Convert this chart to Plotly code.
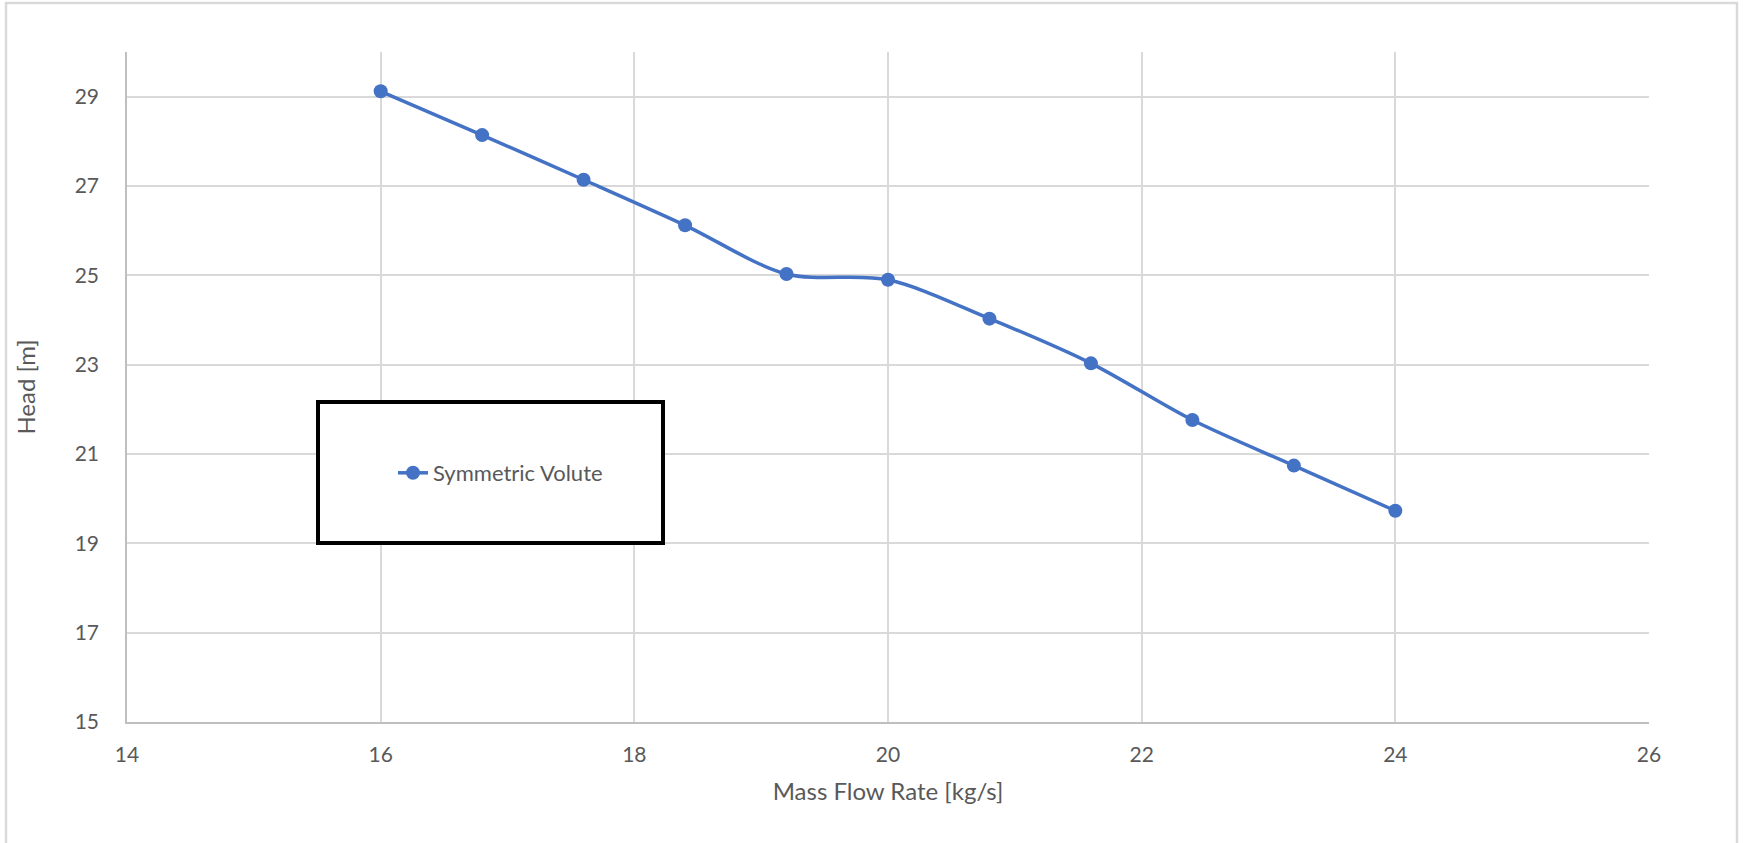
import plotly.graph_objects as go

mass_flow = [16.0, 16.8, 17.6, 18.4, 19.2, 20.0, 20.8, 21.6, 22.4, 23.2, 24.0]
head = [29.12, 28.14, 27.14, 26.12, 25.03, 24.90, 24.03, 23.03, 21.76, 20.74, 19.73]
series_name = "Symmetric Volute"
x_title = "Mass Flow Rate [kg/s]"
y_title = "Head [m]"

W, H = 1743, 843
L, R, T, B = 127, 94, 52, 121
pw, ph = W - L - R, H - T - B

def px_x(v):
    return (v - L) / pw

def px_y(v):
    return (H - B - v) / ph

font_family = "Lato, 'Open Sans', sans-serif"
grey_text = "#595959"
grid = "#d9d9d9"

fig = go.Figure()
fig.add_trace(go.Scatter(
    x=mass_flow, y=head, name=series_name,
    mode="lines+markers",
    line=dict(color="#4472C4", width=3.5, shape="spline", smoothing=0.9),
    marker=dict(color="#4472C4", size=14),
    showlegend=True,
))

fig.update_layout(
    width=W, height=H,
    margin=dict(l=L, r=R, t=T, b=B),
    paper_bgcolor="white", plot_bgcolor="white",
    font=dict(family=font_family, color=grey_text, size=21),
    showlegend=True,
    legend=dict(
        x=px_x(393), y=px_y(473), xanchor="left", yanchor="middle",
        bgcolor="rgba(0,0,0,0)", borderwidth=0,
        font=dict(family=font_family, size=22, color=grey_text),
    ),
    xaxis=dict(
        range=[14, 26], tick0=14, dtick=2,
        showgrid=True, gridcolor=grid, gridwidth=1.5,
        showline=True, linecolor="#bfbfbf", linewidth=1.5,
        zeroline=False, ticks="", ticklabelstandoff=13,
        tickfont=dict(size=21, color=grey_text),
        title=dict(text=x_title, font=dict(size=24, color=grey_text), standoff=18),
    ),
    yaxis=dict(
        range=[15, 30], tick0=15, dtick=2,
        showgrid=True, gridcolor=grid, gridwidth=1.5,
        showline=True, linecolor="#bfbfbf", linewidth=1.5,
        zeroline=False, ticks="", ticklabelstandoff=22,
        tickfont=dict(size=21, color=grey_text),
        title=dict(text=y_title, font=dict(size=24, color=grey_text), standoff=32),
    ),
    shapes=[
        dict(type="rect", xref="paper", yref="paper",
             x0=px_x(6), x1=px_x(1737), y0=px_y(870), y1=px_y(3),
             line=dict(color="#d9d9d9", width=2.5), fillcolor="rgba(0,0,0,0)", layer="below"),
        dict(type="rect", xref="paper", yref="paper",
             x0=px_x(318), x1=px_x(663), y0=px_y(543), y1=px_y(402),
             line=dict(color="black", width=4), fillcolor="white", layer="above"),
    ],
)

fig.write_html(
    "out.html",
    config={"displayModeBar": False},
    post_script="document.body.style.margin='0';document.body.style.overflow='hidden';",
)
